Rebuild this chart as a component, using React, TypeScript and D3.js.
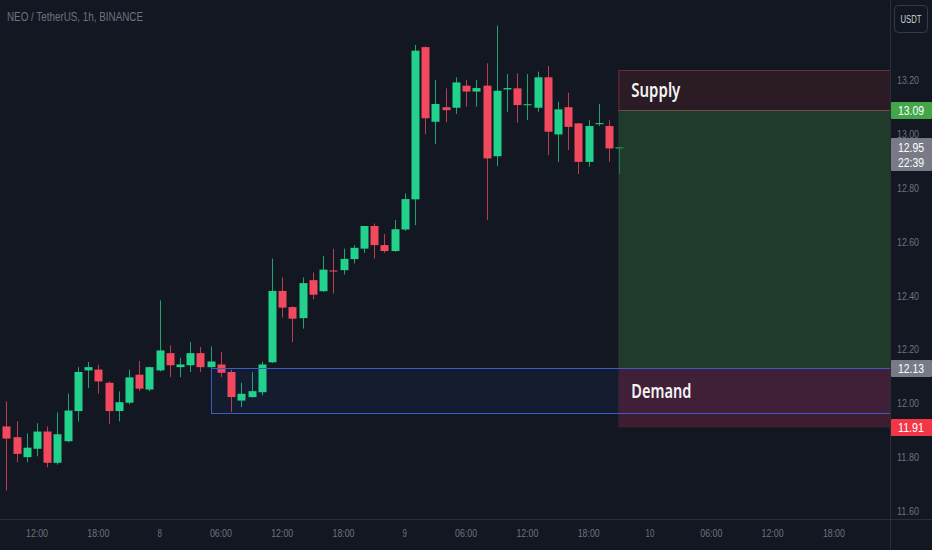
import React from "react";
import * as d3 from "d3";

const START_HOUR = 9; // first candle: day 7, 09:00
const opens = [11.914, 11.874, 11.8, 11.831, 11.895, 11.779, 11.859, 11.971, 12.122, 12.125, 12.076, 11.971, 12.002, 12.106, 12.051, 12.122, 12.186, 12.134, 12.141, 12.186, 12.134, 12.144, 12.116, 12.01, 12.023, 12.041, 12.152, 12.417, 12.357, 12.316, 12.457, 12.416, 12.493, 12.494, 12.535, 12.574, 12.658, 12.587, 12.565, 12.645, 12.757, 13.322, 13.045, 13.099, 13.097, 13.179, 13.157, 13.179, 12.917, 13.165, 13.169, 13.107, 13.097, 13.21, 12.998, 13.099, 13.039, 12.896, 13.036, 13.029, 12.946];
const highs = [12.007, 11.933, 11.888, 11.926, 11.914, 11.966, 12.036, 12.134, 12.153, 12.143, 12.081, 12.044, 12.125, 12.157, 12.136, 12.382, 12.215, 12.169, 12.227, 12.209, 12.211, 12.19, 12.125, 12.076, 12.116, 12.155, 12.537, 12.467, 12.36, 12.467, 12.485, 12.547, 12.574, 12.574, 12.587, 12.658, 12.667, 12.628, 12.68, 12.779, 13.33, 13.325, 13.2, 13.169, 13.21, 13.2, 13.2, 13.262, 13.402, 13.222, 13.225, 13.222, 13.231, 13.252, 13.119, 13.153, 13.04, 13.051, 13.111, 13.051, 12.952];
const lows = [11.676, 11.781, 11.781, 11.803, 11.762, 11.772, 11.855, 11.932, 12.056, 12.035, 11.924, 11.933, 11.996, 12.045, 12.045, 12.118, 12.097, 12.097, 12.116, 12.116, 12.132, 12.097, 11.967, 11.986, 12.021, 12.029, 12.15, 12.318, 12.227, 12.277, 12.386, 12.413, 12.407, 12.478, 12.519, 12.558, 12.537, 12.558, 12.562, 12.64, 12.661, 12.999, 12.962, 13.043, 13.074, 13.101, 13.101, 12.68, 12.88, 13.082, 13.041, 13.051, 13.082, 12.921, 12.896, 12.94, 12.851, 12.878, 13.029, 12.896, 12.851];
const closes = [11.869, 11.812, 11.835, 11.895, 11.779, 11.885, 11.973, 12.116, 12.134, 12.081, 11.971, 12.004, 12.096, 12.054, 12.134, 12.196, 12.141, 12.144, 12.186, 12.134, 12.155, 12.113, 12.023, 12.035, 12.045, 12.144, 12.417, 12.355, 12.314, 12.446, 12.403, 12.496, 12.489, 12.536, 12.577, 12.658, 12.587, 12.565, 12.646, 12.758, 13.309, 13.058, 13.111, 13.088, 13.191, 13.157, 13.17, 12.909, 13.16, 13.17, 13.107, 13.11, 13.21, 13.008, 13.091, 13.026, 12.896, 13.029, 13.04, 12.946, 12.95];

const priceTicks = [13.2, 13.0, 12.8, 12.6, 12.4, 12.2, 12.0, 11.8, 11.6];
const timeTickHours = [12, 18, 24, 30, 36, 42, 48, 54, 60, 66, 72, 78, 84, 90];
const timeTickLabels = ["12:00", "18:00", "8", "06:00", "12:00", "18:00", "9", "06:00", "12:00", "18:00", "10", "06:00", "12:00", "18:00"];

const title = "NEO / TetherUS, 1h, BINANCE";
const currency = "USDT";
const countdown = "22:39";

// zones (prices)
const supplyTop = 13.237;
const target = 13.09;
const entry = 12.13;
const stop = 11.91;
const demandBottom = 11.962;
const demandStartHour = 29.0;
const zoneStartHour = 68.9;
const lastPrice = 12.95;

const W = 932;
const H = 550;
const AXIS_X = 890;
const AXIS_Y = 519;

const BG = "#131722";
const UP = "#22d18b";
const DOWN = "#f2495f";
const TEXT = "#6f727d";
const FONT = "Liberation Sans, Arial, sans-serif";
const LABEL_FONT = "Noto Sans, Open Sans, sans-serif";

export default function App() {
  const x = d3.scaleLinear().domain([12, 72]).range([37, 650]);
  const y = d3.scaleLinear().domain([11.6, 13.2]).range([511, 80]);
  const bw = 8;

  const candles = opens.map((o, i) => ({
    h: START_HOUR + i,
    o,
    hi: highs[i],
    lo: lows[i],
    c: closes[i],
  }));

  const right = AXIS_X;
  const zx = x(zoneStartHour);
  const fmt = d3.format(".2f");
  const dx = Math.round(x(demandStartHour));

  React.useEffect(() => {
    document.body.style.margin = "0";
    document.body.style.background = BG;
  }, []);

  const tl = (s: string, per: number) => s.length * per;

  const badge = (v: number, fill: string) => {
    const yy = Math.round(y(v));
    const s = fmt(v);
    return (
      <g>
        <rect x={AXIS_X + 1} y={yy - 8} width={W - AXIS_X - 1} height={17} fill={fill} rx={1} />
        <text x={AXIS_X + 21} y={yy + 5} fill="#ffffff" fontSize={12.5} textAnchor="middle" textLength={26} lengthAdjust="spacingAndGlyphs">
          {s}
        </text>
      </g>
    );
  };

  return (
    <svg width={W} height={H} style={{ position: "fixed", left: 0, top: 0, background: BG }} fontFamily={FONT}>
      <rect x={0} y={0} width={W} height={H} fill={BG} />

      {/* demand (blue) rectangle */}
      <rect
        x={dx + 0.5}
        y={Math.round(y(entry)) + 0.5}
        width={right - dx}
        height={Math.round(y(demandBottom)) - Math.round(y(entry))}
        fill="#16203a"
        fillOpacity={0.55}
        stroke="#3a5cc4"
        strokeWidth={1}
      />

      {/* candles */}
      {candles.map((d, i) => {
        const cx = Math.round(x(d.h)) + 0.5;
        const col = d.c >= d.o ? UP : DOWN;
        const top = y(Math.max(d.o, d.c));
        const bot = y(Math.min(d.o, d.c));
        return (
          <g key={i}>
            <line x1={cx} x2={cx} y1={y(d.hi)} y2={y(d.lo)} stroke={col} strokeWidth={1} strokeOpacity={0.75} />
            <rect x={cx - bw / 2} y={top} width={bw} height={Math.max(1, bot - top)} fill={col} />
          </g>
        );
      })}

      {/* position zones */}
      <rect x={zx} y={y(target)} width={right - zx} height={y(entry) - y(target)} fill="#2b5a34" fillOpacity={0.55} />
      <rect x={zx} y={y(entry)} width={right - zx} height={y(stop) - y(entry)} fill="#6a2440" fillOpacity={0.5} />
      <line x1={dx} x2={right} y1={Math.round(y(entry)) + 0.5} y2={Math.round(y(entry)) + 0.5} stroke="#3a5cc4" strokeWidth={1} />
      <line x1={dx} x2={right} y1={Math.round(y(demandBottom)) + 0.5} y2={Math.round(y(demandBottom)) + 0.5} stroke="#3a5cc4" strokeWidth={1} />

      {/* supply box */}
      <rect
        x={zx + 0.5}
        y={Math.round(y(supplyTop)) + 0.5}
        width={right - zx}
        height={Math.round(y(target)) - Math.round(y(supplyTop))}
        fill="#2a1b25"
        stroke="#6a2c3c"
        strokeWidth={1}
      />
      <line x1={zx} x2={right} y1={Math.round(y(target)) + 0.5} y2={Math.round(y(target)) + 0.5} stroke="#6b5040" strokeWidth={1} />

      <text x={zx + 13} y={(y(supplyTop) + y(target)) / 2 + 7} fill="#f4f4f4" fontSize={20.5} fontWeight={600} fontFamily={LABEL_FONT} textLength={49} lengthAdjust="spacingAndGlyphs">
        Supply
      </text>
      <text x={zx + 13} y={(y(entry) + y(demandBottom)) / 2 + 7.5} fill="#f4f4f4" fontSize={20.5} fontWeight={600} fontFamily={LABEL_FONT} textLength={60} lengthAdjust="spacingAndGlyphs">
        Demand
      </text>

      {/* axes lines */}
      <line x1={AXIS_X + 0.5} x2={AXIS_X + 0.5} y1={0} y2={H} stroke="#2a2e39" />
      <line x1={0} x2={W} y1={AXIS_Y + 0.5} y2={AXIS_Y + 0.5} stroke="#2a2e39" />

      {/* price axis labels */}
      {priceTicks.map((p) => (
        <text key={p} x={AXIS_X + 7} y={y(p) + 4} fill={TEXT} fontSize={11.5} textLength={22} lengthAdjust="spacingAndGlyphs">
          {fmt(p)}
        </text>
      ))}

      {/* time axis labels */}
      {timeTickHours.map((h, i) => (
        <text
          key={i}
          x={x(h)}
          y={537}
          fill={TEXT}
          fontSize={11.5}
          textAnchor="middle"
          textLength={tl(timeTickLabels[i], 4.4)}
          lengthAdjust="spacingAndGlyphs"
        >
          {timeTickLabels[i]}
        </text>
      ))}

      {/* badges */}
      {badge(target, "#43a74a")}
      {badge(entry, "#787b86")}
      {badge(stop, "#f23645")}
      <g>
        <rect x={AXIS_X + 1} y={Math.round(y(lastPrice)) - 9} width={W - AXIS_X - 1} height={33} fill="#787b86" rx={1} />
        <text x={AXIS_X + 21} y={Math.round(y(lastPrice)) + 4.5} fill="#ffffff" fontSize={12.5} textAnchor="middle" textLength={26} lengthAdjust="spacingAndGlyphs">
          {fmt(lastPrice)}
        </text>
        <text x={AXIS_X + 21} y={Math.round(y(lastPrice)) + 19.5} fill="#ffffff" fontSize={12.5} textAnchor="middle" textLength={26} lengthAdjust="spacingAndGlyphs">
          {countdown}
        </text>
      </g>

      {/* USDT box */}
      <rect x={894.5} y={5.5} width={33} height={27} rx={4} fill="#131722" stroke="#363a45" />
      <text x={911} y={23} fill="#d1d4dc" fontSize={10.5} textAnchor="middle" textLength={21} lengthAdjust="spacingAndGlyphs">
        {currency}
      </text>

      {/* title */}
      <text x={7} y={21} fill={TEXT} fontSize={12.5} textLength={136} lengthAdjust="spacingAndGlyphs">
        {title}
      </text>
    </svg>
  );
}
